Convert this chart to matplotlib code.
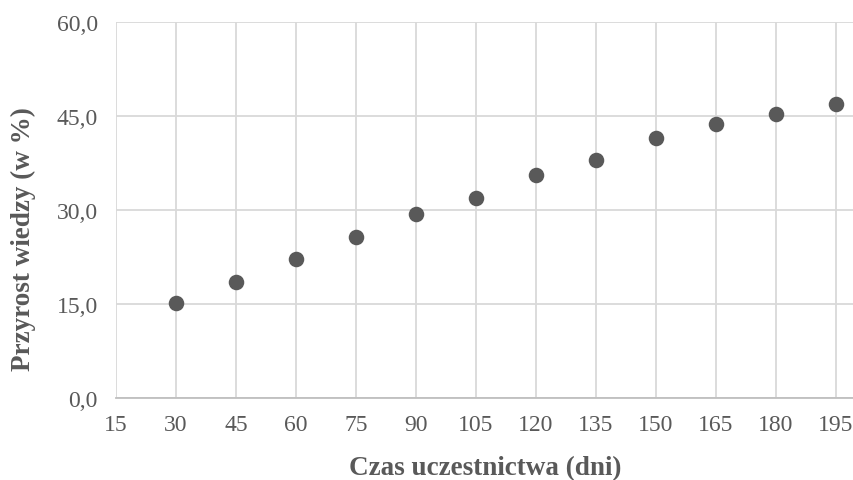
import numpy as np
import matplotlib.pyplot as plt
from matplotlib.ticker import FuncFormatter

plt.rcParams['font.family'] = ['Liberation Serif', 'DejaVu Serif']

days = [30, 45, 60, 75, 90, 105, 120, 135, 150, 165, 180, 195]
gain = [15.1, 18.5, 22.2, 25.6, 29.3, 31.9, 35.5, 38.0, 41.4, 43.7, 45.2, 46.9]

x_ticks = list(range(15, 196, 15))
y_ticks = [0, 15, 30, 45, 60]

grey = '#595959'
grid = '#d9d9d9'

fig = plt.figure(figsize=[8.54, 4.81], dpi=100)
ax = fig.add_axes([0.1358, 0.171, 0.8642, 0.782])

ax.scatter(days, gain, s=125, color=grey, zorder=3, linewidths=0)

ax.set_xlim(15, 199.5)
ax.set_ylim(0, 60)
ax.set_xticks(x_ticks)
ax.set_yticks(y_ticks)
ax.yaxis.set_major_formatter(FuncFormatter(lambda v, p: ('%.1f' % v).replace('.', ',')))

ax.grid(True, color=grid, linewidth=1.3, zorder=0)
for s in ['top', 'right', 'left']:
    ax.spines[s].set_visible(False)
ax.spines['bottom'].set_color('#bfbfbf')
ax.spines['bottom'].set_linewidth(1.3)
ax.tick_params(length=0, labelsize=17, labelcolor=grey)
ax.tick_params(axis='y', pad=13)
ax.tick_params(axis='x', pad=12)

ax.set_xlabel('Czas uczestnictwa (dni)', fontsize=19.5, fontweight='bold', color=grey, labelpad=14)
ax.set_ylabel('Przyrost wiedzy (w %)', fontsize=19.5, fontweight='bold', color=grey)
ax.yaxis.set_label_coords(-0.108, 0.425)

fig.savefig('out.png', dpi=100)
